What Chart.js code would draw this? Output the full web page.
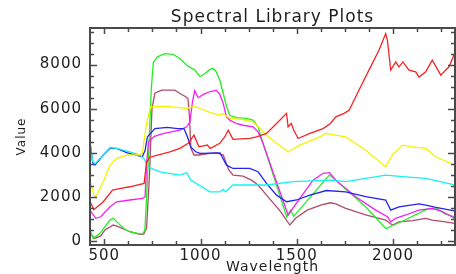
<!DOCTYPE html>
<html>
<head>
<meta charset="utf-8">
<script src="https://cdn.jsdelivr.net/npm/chart.js@4.4.1/dist/chart.umd.min.js"></script>
<style>
  html, body { margin: 0; background: #fff; }
  canvas { display: block; }
</style>
</head>
<body>
<canvas id="chart" width="456" height="274"></canvas>
<script>
// ── Data ─────────────────────────────────────────────────────
const TITLE   = "Spectral Library Plots";
const X_TITLE = "Wavelength";
const Y_TITLE = "Value";

const X_MIN = 426, X_MAX = 2322;
const Y_MIN = -181, Y_MAX = 9660;
const xMajorTicks = [500, 1000, 1500, 2000];
const yMajorTicks = [0, 2000, 4000, 6000, 8000];
const X_MINOR = 125, Y_MINOR = 500;

const redWl  = [426, 446, 495, 543, 586, 633, 707, 720, 737, 772, 841, 893, 936, 950, 966, 992, 1036, 1049, 1066, 1100, 1126, 1144, 1169, 1256, 1291, 1343, 1395, 1447, 1455, 1472, 1484, 1507, 1568, 1637, 1675, 1703, 1746, 1772, 1823, 1875, 1927, 1962, 1971, 1988, 2014, 2031, 2052, 2083, 2118, 2135, 2170, 2204, 2248, 2291, 2320];
const redVal = [1800, 1420, 1780, 2310, 2390, 2460, 2610, 3580, 3800, 3880, 4045, 4200, 4430, 4600, 4800, 4270, 4350, 4200, 4270, 4430, 4720, 5030, 4610, 4650, 4720, 4880, 5330, 5790, 5180, 5330, 5030, 4650, 4880, 5100, 5330, 5630, 5790, 5930, 6840, 7750, 8650, 9410, 9100, 7750, 8120, 7900, 8120, 7750, 7670, 7440, 7670, 8200, 7520, 7900, 8500];

const yellowWl  = [426, 446, 456, 495, 530, 564, 620, 672, 698, 706, 722, 741, 810, 880, 928, 966, 997, 1049, 1101, 1118, 1152, 1221, 1273, 1308, 1343, 1395, 1455, 1516, 1620, 1651, 1754, 1858, 1962, 1997, 2049, 2101, 2170, 2222, 2320];
const yellowVal = [2760, 2080, 2010, 2690, 3440, 3750, 3900, 3900, 3970, 4500, 5450, 6080, 6115, 6060, 6010, 6115, 6010, 5830, 5710, 5780, 5560, 5510, 5400, 5100, 4800, 4430, 4045, 4350, 4720, 4880, 4720, 4120, 3370, 3900, 4350, 4270, 4200, 3820, 3440];

const cyanWl  = [426, 440, 452, 495, 530, 564, 633, 685, 710, 724, 789, 893, 928, 949, 1049, 1101, 1118, 1130, 1169, 1343, 1481, 1675, 1754, 1962, 2066, 2170, 2320];
const cyanVal = [4350, 3600, 3500, 3900, 4240, 4200, 4045, 3900, 3700, 3370, 3140, 2990, 3090, 2760, 2230, 2230, 2340, 2230, 2540, 2540, 2690, 2760, 2690, 2990, 2910, 2840, 2550];

const blueWl  = [426, 440, 452, 495, 530, 564, 620, 698, 712, 724, 732, 763, 828, 880, 914, 932, 949, 975, 997, 1101, 1135, 1169, 1256, 1299, 1343, 1395, 1447, 1499, 1568, 1654, 1754, 1858, 1962, 1988, 2031, 2135, 2170, 2222, 2320];
const blueVal = [4500, 3550, 3450, 3900, 4200, 4200, 4000, 3820, 4100, 4720, 4800, 5100, 5150, 5100, 5100, 4725, 4270, 4045, 3970, 4000, 3440, 3290, 3290, 3140, 2610, 2080, 1780, 1860, 2080, 2290, 2230, 2010, 1860, 1400, 1550, 1680, 1630, 1530, 1370];

const magentaWl  = [426, 456, 482, 530, 564, 633, 698, 712, 720, 730, 760, 810, 893, 928, 945, 958, 970, 988, 1015, 1050, 1083, 1100, 1118, 1135, 1152, 1187, 1221, 1273, 1299, 1317, 1455, 1516, 1585, 1637, 1670, 1703, 1806, 1910, 1971, 1988, 2014, 2066, 2135, 2204, 2256, 2320];
const magentaVal = [1400, 1030, 1100, 1550, 1780, 1860, 1930, 2000, 3500, 4500, 4750, 4880, 5030, 5180, 5400, 6300, 6820, 6500, 6650, 6780, 6830, 6650, 6240, 5630, 5480, 5330, 5250, 5180, 4950, 4610, 1180, 1930, 2760, 3070, 3100, 2760, 2010, 1400, 1100, 870, 1030, 1180, 1400, 1480, 1330, 1030];

const greenWl  = [426, 443, 478, 504, 530, 547, 573, 607, 633, 685, 700, 711, 720, 732, 745, 755, 776, 815, 858, 893, 928, 971, 997, 1023, 1049, 1066, 1080, 1100, 1118, 1135, 1152, 1187, 1239, 1273, 1299, 1317, 1448, 1468, 1484, 1670, 1858, 1964, 1990, 2059, 2180, 2232, 2267, 2320];
const greenVal = [500, 120, 350, 650, 950, 1030, 800, 530, 420, 320, 330, 500, 2000, 4300, 7000, 8100, 8350, 8500, 8460, 8280, 7970, 7750, 7450, 7600, 7780, 7820, 7700, 7300, 6700, 6100, 5700, 5600, 5560, 5480, 5180, 4650, 1080, 1400, 1120, 3000, 1550, 560, 670, 940, 1460, 1460, 1240, 1090];

const maroonWl  = [426, 450, 482, 504, 547, 573, 633, 685, 705, 720, 735, 748, 763, 798, 867, 893, 923, 935, 943, 950, 966, 992, 1049, 1083, 1118, 1147, 1169, 1221, 1265, 1299, 1343, 1416, 1464, 1494, 1554, 1624, 1675, 1703, 1754, 1858, 1962, 1997, 2031, 2101, 2170, 2204, 2273, 2320];
const maroonVal = [350, 120, 230, 500, 725, 650, 420, 300, 310, 600, 3000, 6000, 6700, 6840, 6840, 6690, 6540, 6450, 5600, 4200, 3900, 3900, 3970, 4000, 3900, 3220, 2990, 2940, 2760, 2540, 2080, 1330, 725, 1030, 1400, 1630, 1735, 1680, 1480, 1180, 950, 725, 870, 920, 1030, 950, 870, 800];

// ── Styling ──────────────────────────────────────────────────
const FONT       = "'DejaVu Sans', sans-serif";
const TEXT_COLOR = "#1e1e1e";
const AXIS_COLOR = "#4a4a4a";

const series = [
  { wl: redWl,     val: redVal,     color: "#f42424" },
  { wl: yellowWl,  val: yellowVal,  color: "#f4f400" },
  { wl: cyanWl,    val: cyanVal,    color: "#18f0f0" },
  { wl: blueWl,    val: blueVal,    color: "#2424f0" },
  { wl: magentaWl, val: magentaVal, color: "#f420f4" },
  { wl: greenWl,   val: greenVal,   color: "#20f020" },
  { wl: maroonWl,  val: maroonVal,  color: "#b04c6c" },
];

const toPoints = (wl, val) => wl.map((w, i) => ({ x: w, y: val[i] }));

// every minor step inside [min, max]
function stepValues(min, max, step) {
  const out = [];
  for (let v = Math.ceil(min / step) * step; v <= max; v += step) out.push(v);
  return out;
}
const xTickValues = stepValues(X_MIN, X_MAX, X_MINOR);
const yTickValues = stepValues(Y_MIN, Y_MAX, Y_MINOR);

// ── IDL-style box with inward ticks on all four sides ────────
const boxPlugin = {
  id: "idlBox",
  beforeDraw(chart) {
    chart.ctx.letterSpacing = "1px";
  },
  afterDatasetsDraw(chart) {
    const { ctx, chartArea: a, scales: { x, y } } = chart;
    ctx.save();
    ctx.strokeStyle = AXIS_COLOR;
    ctx.lineWidth = 1.5;
    ctx.beginPath();
    xTickValues.forEach(v => {
      const len = xMajorTicks.includes(v) ? 6 : 4;
      const px = Math.round(x.getPixelForValue(v)) + 0.5;
      ctx.moveTo(px, a.bottom); ctx.lineTo(px, a.bottom - len);
      ctx.moveTo(px, a.top);    ctx.lineTo(px, a.top + len);
    });
    yTickValues.forEach(v => {
      const len = yMajorTicks.includes(v) ? 7 : 4;
      const py = Math.round(y.getPixelForValue(v)) + 0.5;
      ctx.moveTo(a.left, py);  ctx.lineTo(a.left + len, py);
      ctx.moveTo(a.right, py); ctx.lineTo(a.right - len, py);
    });
    ctx.stroke();
    ctx.lineWidth = 2;
    ctx.strokeRect(a.left, a.top, a.right - a.left, a.bottom - a.top);
    ctx.restore();
  },
};

// ── Chart ────────────────────────────────────────────────────
new Chart(document.getElementById("chart"), {
  type: "line",
  data: {
    datasets: series.map(s => ({
      data: toPoints(s.wl, s.val),
      borderColor: s.color,
      borderWidth: 1.3,
      pointRadius: 0,
      tension: 0,
      fill: false,
    })),
  },
  options: {
    responsive: false,
    animation: false,
    devicePixelRatio: 1,
    layout: { padding: { left: 0, right: 1, top: 0, bottom: 0 } },
    plugins: {
      legend:  { display: false },
      tooltip: { enabled: false },
      title: {
        display: true,
        text: TITLE,
        fullSize: false,
        color: TEXT_COLOR,
        font: { family: FONT, size: 17, weight: "normal", lineHeight: "20px" },
        padding: { top: 8, bottom: 0 },
      },
    },
    scales: {
      x: {
        type: "linear",
        min: X_MIN,
        max: X_MAX,
        afterBuildTicks: s => { s.ticks = xMajorTicks.map(v => ({ value: v })); },
        afterFit: s => { s.height = 29; },
        grid:   { display: false, drawTicks: false },
        border: { display: false },
        ticks: {
          autoSkip: false,
          maxRotation: 0,
          padding: 2,
          color: TEXT_COLOR,
          font: { family: FONT, size: 15 },
          callback: v => String(v),
        },
        title: {
          display: true,
          text: X_TITLE,
          color: TEXT_COLOR,
          font: { family: FONT, size: 14, lineHeight: 1 },
          padding: { top: 0, bottom: 0 },
        },
      },
      y: {
        min: Y_MIN,
        max: Y_MAX,
        afterBuildTicks: s => { s.ticks = yMajorTicks.map(v => ({ value: v })); },
        afterFit: s => { s.width = 90; },
        grid:   { display: false, drawTicks: false },
        border: { display: false },
        ticks: {
          autoSkip: false,
          padding: 8,
          color: TEXT_COLOR,
          font: { family: FONT, size: 15 },
          callback: v => String(v),
        },
        title: {
          display: true,
          text: Y_TITLE,
          color: TEXT_COLOR,
          font: { family: FONT, size: 12, lineHeight: 1.2 },
          padding: { top: 15, bottom: 0 },
        },
      },
    },
  },
  plugins: [boxPlugin],
});
</script>
</body>
</html>
